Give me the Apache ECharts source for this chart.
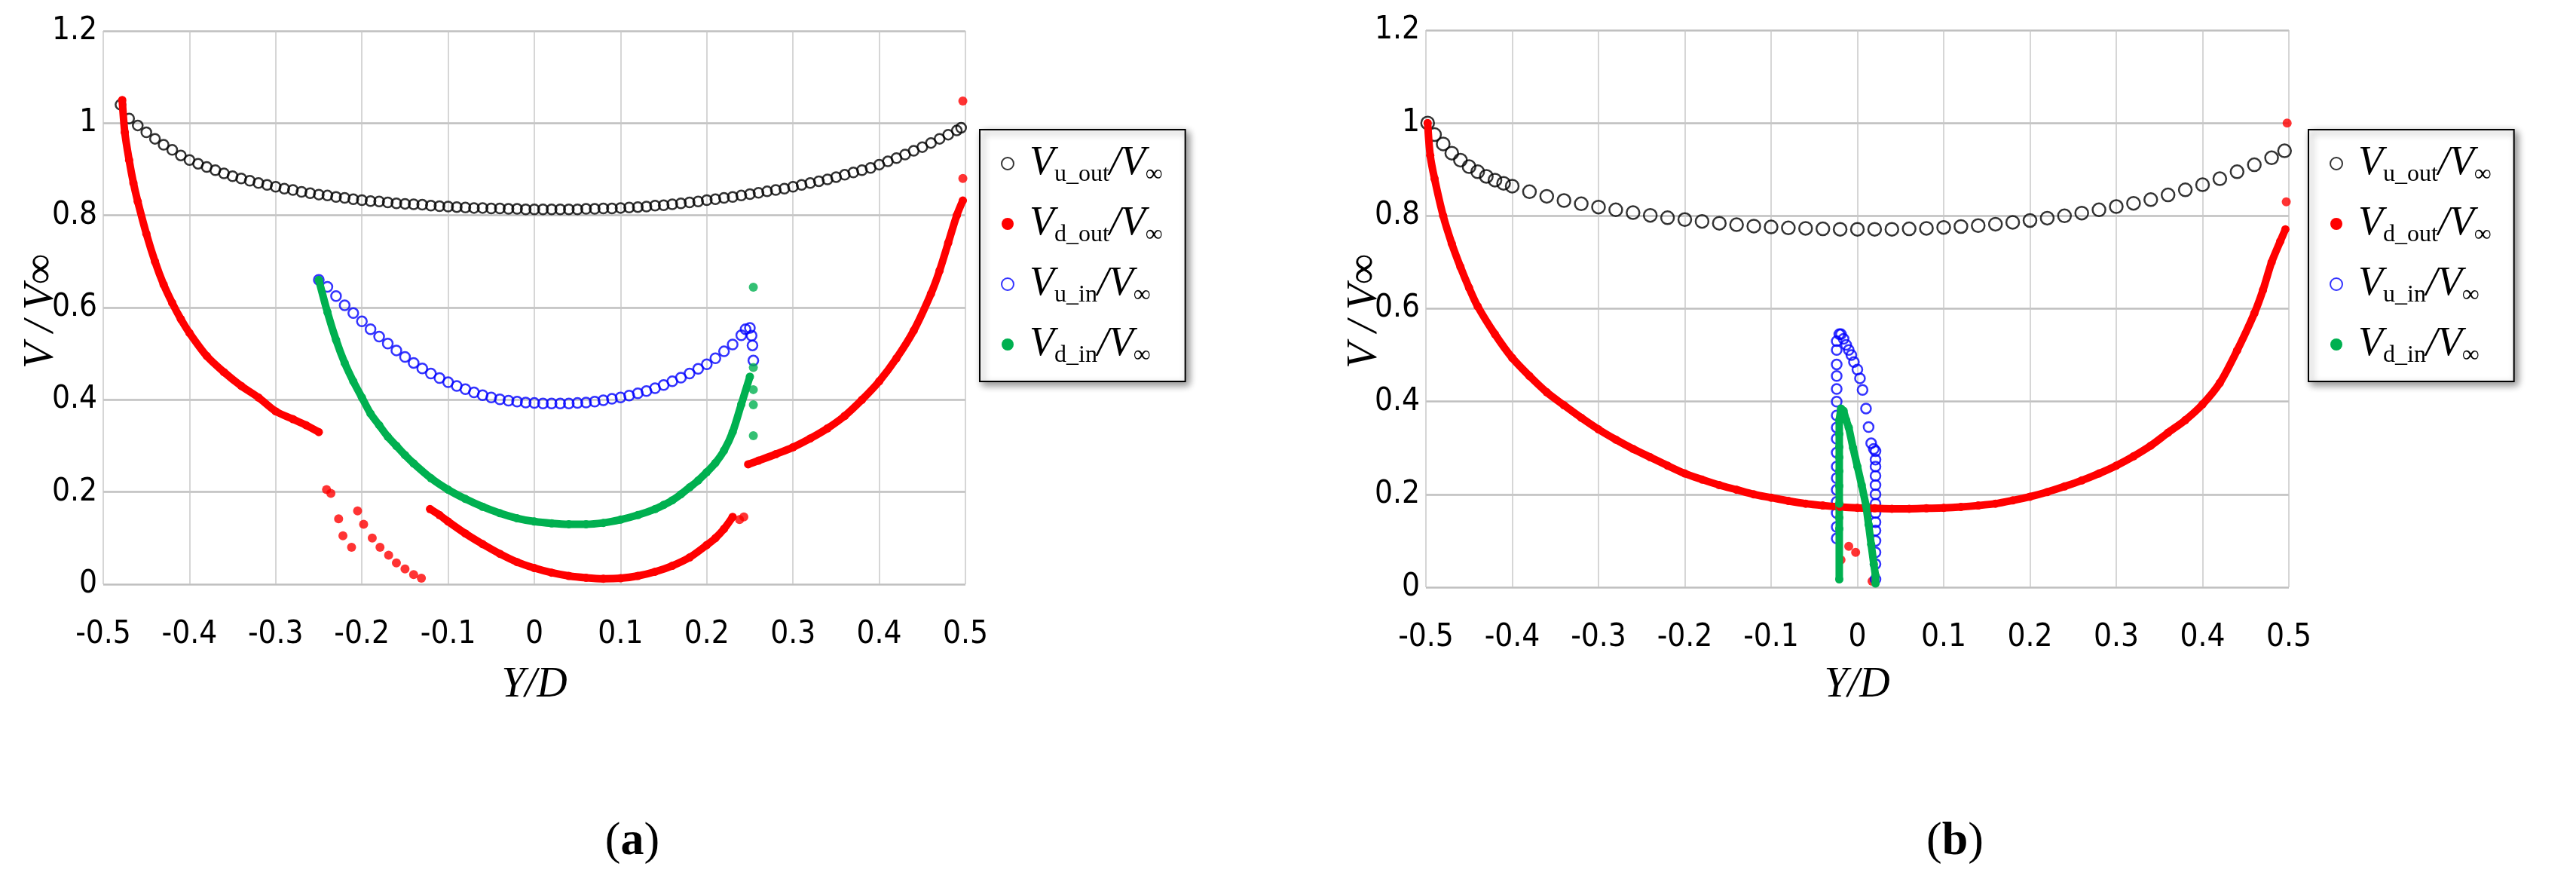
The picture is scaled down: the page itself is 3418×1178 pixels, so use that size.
<!DOCTYPE html>
<html>
<head>
<meta charset="utf-8">
<script src="https://cdn.jsdelivr.net/npm/echarts@6/dist/echarts.min.js"></script>
<style>html,body{margin:0;padding:0;background:#fff}#c{width:3418px;height:1178px}</style>
</head>
<body>
<div id="c"></div>
<script>
// axis ticks
var xTicks = [-0.5, 0.5, 0.1];
var yTicks = [0, 1.2, 0.2];

// ---- panel (a) ----
var aUoutX = [-0.48,-0.47,-0.46,-0.45,-0.44,-0.43,-0.42,-0.41,-0.40,-0.39,-0.38,-0.37,-0.36,-0.35,-0.34,-0.33,-0.32,-0.31,-0.30,-0.29,-0.28,-0.27,-0.26,-0.25,-0.24,-0.23,-0.22,-0.21,-0.20,-0.19,-0.18,-0.17,-0.16,-0.15,-0.14,-0.13,-0.12,-0.11,-0.10,-0.09,-0.08,-0.07,-0.06,-0.05,-0.04,-0.03,-0.02,-0.01,0,0.01,0.02,0.03,0.04,0.05,0.06,0.07,0.08,0.09,0.10,0.11,0.12,0.13,0.14,0.15,0.16,0.17,0.18,0.19,0.20,0.21,0.22,0.23,0.24,0.25,0.26,0.27,0.28,0.29,0.30,0.31,0.32,0.33,0.34,0.35,0.36,0.37,0.38,0.39,0.40,0.41,0.42,0.43,0.44,0.45,0.46,0.47,0.48,0.49,0.495];
var aUoutY = [1.04,1.01,0.995,0.98,0.966,0.953,0.942,0.93,0.92,0.912,0.905,0.898,0.891,0.885,0.88,0.875,0.87,0.866,0.862,0.858,0.855,0.851,0.848,0.845,0.843,0.84,0.838,0.835,0.833,0.831,0.83,0.828,0.826,0.825,0.824,0.823,0.821,0.82,0.819,0.818,0.817,0.816,0.816,0.815,0.815,0.814,0.814,0.813,0.813,0.813,0.813,0.813,0.813,0.813,0.814,0.814,0.815,0.815,0.816,0.817,0.818,0.819,0.821,0.822,0.824,0.826,0.828,0.83,0.833,0.835,0.838,0.84,0.843,0.846,0.849,0.852,0.855,0.858,0.862,0.866,0.87,0.874,0.878,0.883,0.888,0.893,0.898,0.903,0.91,0.917,0.924,0.932,0.94,0.948,0.957,0.966,0.975,0.984,0.99];

var aDoutLeftX = [-0.478,-0.475,-0.47,-0.465,-0.46,-0.45,-0.44,-0.43,-0.42,-0.41,-0.40,-0.38,-0.36,-0.34,-0.32,-0.30,-0.28,-0.265,-0.25];
var aDoutLeftY = [1.05,0.98,0.92,0.87,0.83,0.76,0.7,0.65,0.61,0.575,0.545,0.495,0.46,0.43,0.405,0.375,0.358,0.345,0.33];
var aDoutMidX = [-0.121,-0.11,-0.10,-0.08,-0.06,-0.04,-0.02,0,0.02,0.04,0.06,0.08,0.10,0.12,0.14,0.16,0.18,0.20,0.21,0.22,0.23];
var aDoutMidY = [0.163,0.15,0.136,0.11,0.087,0.066,0.048,0.035,0.025,0.018,0.014,0.012,0.013,0.018,0.027,0.04,0.058,0.085,0.1,0.12,0.146];
var aDoutRightX = [0.248,0.26,0.28,0.30,0.32,0.34,0.36,0.38,0.40,0.42,0.44,0.46,0.47,0.48,0.49,0.497];
var aDoutRightY = [0.26,0.268,0.282,0.297,0.316,0.338,0.365,0.4,0.44,0.49,0.55,0.63,0.68,0.74,0.8,0.832];
var aDoutDotsX = [-0.241,-0.236,-0.227,-0.205,-0.222,-0.198,-0.212,-0.188,-0.179,-0.169,-0.16,-0.15,-0.14,-0.131,0.238,0.243,0.497,0.497];
var aDoutDotsY = [0.205,0.197,0.142,0.159,0.105,0.13,0.08,0.1,0.08,0.063,0.046,0.033,0.021,0.013,0.14,0.146,0.88,1.048];

var aUinX = [-0.25,-0.24,-0.23,-0.22,-0.21,-0.20,-0.19,-0.18,-0.17,-0.16,-0.15,-0.14,-0.13,-0.12,-0.11,-0.10,-0.09,-0.08,-0.07,-0.06,-0.05,-0.04,-0.03,-0.02,-0.01,0,0.01,0.02,0.03,0.04,0.05,0.06,0.07,0.08,0.09,0.10,0.11,0.12,0.13,0.14,0.15,0.16,0.17,0.18,0.19,0.20,0.21,0.22,0.23,0.24,0.245,0.25,0.252,0.253,0.254];
var aUinY = [0.66,0.645,0.625,0.605,0.588,0.57,0.553,0.537,0.522,0.507,0.493,0.48,0.468,0.457,0.447,0.438,0.43,0.423,0.416,0.41,0.405,0.401,0.398,0.396,0.394,0.393,0.392,0.392,0.392,0.392,0.393,0.394,0.396,0.399,0.402,0.405,0.409,0.414,0.419,0.425,0.432,0.44,0.448,0.457,0.467,0.477,0.49,0.505,0.52,0.54,0.553,0.556,0.539,0.518,0.485];

var aDinX = [-0.25,-0.24,-0.23,-0.22,-0.21,-0.20,-0.19,-0.18,-0.17,-0.16,-0.15,-0.14,-0.12,-0.10,-0.08,-0.06,-0.04,-0.02,0,0.02,0.04,0.06,0.08,0.10,0.12,0.14,0.15,0.16,0.17,0.18,0.19,0.20,0.21,0.22,0.23,0.24,0.25];
var aDinY = [0.66,0.59,0.53,0.48,0.44,0.405,0.37,0.345,0.32,0.3,0.28,0.262,0.23,0.205,0.185,0.168,0.154,0.143,0.136,0.132,0.13,0.13,0.133,0.14,0.15,0.163,0.172,0.182,0.195,0.21,0.225,0.243,0.263,0.29,0.33,0.39,0.45];
var aDinDotsX = [0.254,0.254,0.254,0.254,0.254];
var aDinDotsY = [0.644,0.47,0.422,0.389,0.322];

// ---- panel (b) ----
var bUoutX = [-0.498,-0.49,-0.48,-0.47,-0.46,-0.45,-0.44,-0.43,-0.42,-0.41,-0.40,-0.38,-0.36,-0.34,-0.32,-0.30,-0.28,-0.26,-0.24,-0.22,-0.20,-0.18,-0.16,-0.14,-0.12,-0.10,-0.08,-0.06,-0.04,-0.02,0,0.02,0.04,0.06,0.08,0.10,0.12,0.14,0.16,0.18,0.20,0.22,0.24,0.26,0.28,0.30,0.32,0.34,0.36,0.38,0.40,0.42,0.44,0.46,0.48,0.495];
var bUoutY = [1.0,0.975,0.955,0.935,0.92,0.906,0.895,0.885,0.877,0.87,0.864,0.852,0.842,0.833,0.826,0.819,0.813,0.807,0.801,0.796,0.792,0.788,0.784,0.781,0.778,0.776,0.774,0.773,0.772,0.771,0.771,0.771,0.771,0.772,0.773,0.775,0.777,0.779,0.782,0.786,0.79,0.795,0.8,0.806,0.813,0.82,0.827,0.835,0.845,0.856,0.867,0.88,0.895,0.91,0.925,0.94];

var bDoutX = [-0.498,-0.495,-0.49,-0.48,-0.47,-0.46,-0.45,-0.44,-0.42,-0.40,-0.38,-0.36,-0.34,-0.32,-0.30,-0.28,-0.26,-0.24,-0.22,-0.20,-0.18,-0.16,-0.14,-0.12,-0.10,-0.08,-0.06,-0.04,-0.02,0,0.02,0.04,0.06,0.08,0.10,0.12,0.14,0.16,0.18,0.20,0.22,0.24,0.26,0.28,0.30,0.32,0.34,0.36,0.38,0.40,0.42,0.44,0.46,0.47,0.48,0.49,0.496];
var bDoutY = [1.0,0.93,0.88,0.8,0.74,0.69,0.645,0.605,0.545,0.494,0.455,0.42,0.392,0.365,0.34,0.318,0.298,0.28,0.262,0.245,0.232,0.22,0.21,0.2,0.193,0.186,0.18,0.176,0.173,0.171,0.17,0.169,0.169,0.17,0.171,0.173,0.176,0.18,0.187,0.195,0.205,0.217,0.23,0.245,0.262,0.282,0.305,0.333,0.36,0.394,0.44,0.51,0.59,0.64,0.7,0.745,0.771];
var bDoutDotsX = [-0.019,-0.01,-0.002,0.017,0.497,0.498];
var bDoutDotsY = [0.059,0.088,0.075,0.013,0.83,1.0];

var bUinX = [-0.024,-0.024,-0.024,-0.024,-0.024,-0.024,-0.024,-0.024,-0.024,-0.024,-0.024,-0.024,-0.024,-0.024,-0.024,-0.024,-0.024,-0.021,-0.019,-0.016,-0.013,-0.01,-0.007,-0.004,0,0.003,0.006,0.01,0.013,0.016,0.019,0.021,0.021,0.021,0.021,0.021,0.021,0.021,0.021,0.021,0.021,0.021,0.021,0.021,0.021];
var bUinY = [0.105,0.13,0.16,0.184,0.21,0.235,0.26,0.29,0.32,0.344,0.37,0.4,0.427,0.455,0.48,0.511,0.53,0.545,0.545,0.535,0.522,0.511,0.5,0.485,0.469,0.45,0.425,0.385,0.345,0.31,0.298,0.293,0.275,0.26,0.24,0.22,0.2,0.18,0.16,0.14,0.122,0.1,0.075,0.05,0.017];

var bDinX = [-0.021,-0.021,-0.021,-0.021,-0.021,-0.021,-0.021,-0.021,-0.021,-0.021,-0.019,-0.016,-0.013,-0.01,-0.005,0,0.005,0.01,0.013,0.016,0.019,0.021,0.021];
var bDinY = [0.017,0.126,0.15,0.18,0.218,0.25,0.28,0.302,0.33,0.36,0.385,0.38,0.36,0.344,0.3,0.26,0.22,0.176,0.135,0.092,0.05,0.025,0.008];

function zip(xs, ys) { return xs.map(function (x, i) { return [x, ys[i]]; }); }

var RED = '#ff0000', GREEN = '#00b050', BLUE = '#0000ff';

function hollow(name, data, color, idx, size) {
  return { name: name, type: 'scatter', xAxisIndex: idx, yAxisIndex: idx, data: data,
    symbol: 'circle', symbolSize: size || 13,
    itemStyle: { color: 'rgba(255,255,255,0)', borderColor: color, borderWidth: 2.5 } };
}
function filledLine(name, data, color, idx, smooth) {
  return { name: name, type: 'line', xAxisIndex: idx, yAxisIndex: idx, data: data,
    smooth: smooth === undefined ? 0.3 : smooth,
    symbol: 'circle', symbolSize: 11, showSymbol: true,
    lineStyle: { color: color, width: 10 }, itemStyle: { color: color } };
}
function dots(name, data, color, idx) {
  return { name: name, type: 'scatter', xAxisIndex: idx, yAxisIndex: idx, data: data,
    symbol: 'circle', symbolSize: 12, itemStyle: { color: color } };
}

var series = [
  hollow('a_uout', zip(aUoutX, aUoutY), '#000', 0),
  filledLine('a_dout', zip(aDoutLeftX, aDoutLeftY), RED, 0),
  filledLine('a_dout', zip(aDoutMidX, aDoutMidY), RED, 0),
  filledLine('a_dout', zip(aDoutRightX, aDoutRightY), RED, 0),
  dots('a_dout', zip(aDoutDotsX, aDoutDotsY), RED, 0),
  hollow('a_uin', zip(aUinX, aUinY), BLUE, 0),
  filledLine('a_din', zip(aDinX, aDinY), GREEN, 0),
  dots('a_din', zip(aDinDotsX, aDinDotsY), GREEN, 0),
  hollow('b_uout', zip(bUoutX, bUoutY), '#000', 1, 17),
  filledLine('b_dout', zip(bDoutX, bDoutY), RED, 1),
  dots('b_dout', zip(bDoutDotsX, bDoutDotsY), RED, 1),
  hollow('b_uin', zip(bUinX, bUinY), BLUE, 1),
  filledLine('b_din', zip(bDinX, bDinY), GREEN, 1, false)
];

var tickFont = { fontFamily: 'Liberation Sans Narrow, DejaVu Sans Condensed, sans-serif', fontSize: 42, color: '#000' };

function xAx(idx) {
  return { type: 'value', gridIndex: idx, min: xTicks[0], max: xTicks[1], interval: xTicks[2],
    axisLine: { show: false }, axisTick: { show: false },
    axisLabel: Object.assign({ margin: 46, formatter: function (v) { return +v.toFixed(1); } }, tickFont),
    splitLine: { show: true, lineStyle: { color: '#c8c8c8', width: 1.5 } } };
}
function yAx(idx) {
  return { type: 'value', gridIndex: idx, min: yTicks[0], max: yTicks[1], interval: yTicks[2],
    axisLine: { show: true, onZero: true, lineStyle: { color: 'rgba(0,0,0,0)' } }, axisTick: { show: false },
    axisLabel: Object.assign({ margin: 8, formatter: function (v) { return +v.toFixed(1); } }, tickFont),
    splitLine: { show: true, lineStyle: { color: '#bfbfbf', width: 2.5 } } };
}

var rich = {
  v: { fontFamily: 'Liberation Serif', fontStyle: 'italic', fontSize: 54, color: '#000', verticalAlign: 'bottom' },
  s: { fontFamily: 'Liberation Serif', fontSize: 32, color: '#000', verticalAlign: 'bottom', padding: [0, 0, -4, 0] }
};
function legendFmt(name) {
  var key = name.split('_')[1];
  var sub = { uout: 'u_out', dout: 'd_out', uin: 'u_in', din: 'd_in' }[key];
  return '{v|V}{s|' + sub + '}{v|/V}{s|∞}';
}
function legend(prefix, left) {
  return { orient: 'vertical', left: left, top: 172, width: 300,
    data: ['uout', 'dout', 'uin', 'din'].map(function (k) { return prefix + k; }),
    icon: 'circle', itemWidth: 16, itemHeight: 16, itemGap: 22,
    padding: [18, 30, 18, 28],
    backgroundColor: '#fff', borderColor: '#000', borderWidth: 2,
    shadowColor: 'rgba(0,0,0,0.45)', shadowBlur: 10, shadowOffsetX: 4, shadowOffsetY: 4,
    formatter: legendFmt, textStyle: { rich: rich, padding: [0, 0, 0, 16] } };
}

function text(x, y, t, opts) {
  return Object.assign({ type: 'text', x: x, y: y, style: Object.assign({ text: t, fill: '#000',
    textAlign: 'center', textVerticalAlign: 'middle' }, opts.style || {}) }, opts.el || {});
}
var serifItalic = { fontFamily: 'Liberation Serif', fontStyle: 'italic', fontSize: 56 };

var chart = echarts.init(document.getElementById('c'));
chart.setOption({
  animation: false,
  grid: [
    { left: 137, right: 2137, top: 41, bottom: 403 },
    { left: 1892, right: 381, top: 40, bottom: 399 }
  ],
  xAxis: [xAx(0), xAx(1)],
  yAxis: [yAx(0), yAx(1)],
  legend: [legend('a_', 1300), legend('b_', 3063)],
  series: series,
  graphic: [
    text(55, 413, 'V / V∞', { style: serifItalic, el: { rotation: Math.PI / 2 } }),
    text(1811, 413, 'V / V∞', { style: serifItalic, el: { rotation: Math.PI / 2 } }),
    text(709, 909, 'Y/D', { style: serifItalic }),
    text(2464, 909, 'Y/D', { style: serifItalic }),
    { type: 'text', x: 839, y: 1117, style: { text: '({b|a})', fill: '#000', align: 'center', verticalAlign: 'middle',
      font: '62px Liberation Serif', rich: { b: { fontWeight: 'bold', fontSize: 62, fontFamily: 'Liberation Serif' } } } },
    { type: 'text', x: 2594, y: 1117, style: { text: '({b|b})', fill: '#000', align: 'center', verticalAlign: 'middle',
      font: '62px Liberation Serif', rich: { b: { fontWeight: 'bold', fontSize: 62, fontFamily: 'Liberation Serif' } } } }
  ]
});
</script>
</body>
</html>
